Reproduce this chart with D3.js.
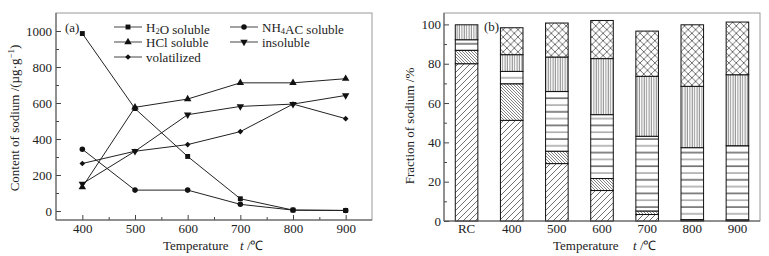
<!DOCTYPE html>
<html><head><meta charset="utf-8">
<script src="https://cdn.jsdelivr.net/npm/d3@7"></script>
<style>
body{margin:0;background:#fff}
svg{font-family:"Liberation Serif","Times New Roman",serif;}
</style>
</head><body>
<svg id="chart" width="769" height="256"></svg>
<script>
// (a) content of sodium, ug/g
const temps = [400, 500, 600, 700, 800, 900];
const h2oSoluble = [986, 569, 303, 68, 5, 3];
const nh4acSoluble = [343, 116, 116, 37, 5, 3];
const hclSoluble = [133, 576, 622, 712, 712, 735];
const insoluble = [151, 332, 535, 581, 594, 642];
const volatilized = [264, 332, 369, 441, 594, 513];

// (b) fraction of sodium, %
const barLabels = ['RC', '400', '500', '600', '700', '800', '900'];
const fracH2O = [80, 51.2, 29.2, 15.5, 3.3, 0.4, 0.3];
const fracNH4AC = [6.8, 18.6, 6.3, 6.1, 1.8, 0.3, 0.3];
const fracHCl = [5.4, 6.3, 30.4, 32.5, 38, 36.6, 37.7];
const fracInsol = [7.6, 8.5, 17.5, 28.5, 30.5, 31.2, 36.1];
const fracVol = [0, 13.7, 17.3, 19.4, 23, 31.3, 26.8];

const ink = '#222';
const serif = '"Liberation Serif","Times New Roman",serif';
const svg = d3.select('#chart');

// ---------- patterns ----------
const defs = svg.append('defs');
function pat(id, w, h, draw) {
    const p = defs.append('pattern').attr('id', id)
        .attr('patternUnits', 'userSpaceOnUse').attr('width', w).attr('height', h);
    p.append('rect').attr('width', w).attr('height', h).attr('fill', '#fff');
    draw(p);
}
pat('p-h2o', 6, 6, p => {
    p.append('path').attr('d', 'M0,6 L6,0 M-1,1 L1,-1 M5,7 L7,5')
        .attr('stroke', '#333').attr('stroke-width', 0.7);
});
pat('p-nh4', 3, 3, p => {
    p.append('path').attr('d', 'M0,0 L3,3 M-1,2 L1,4 M2,-1 L4,1')
        .attr('stroke', '#333').attr('stroke-width', 0.6);
});
pat('p-hcl', 8, 13.6, p => {
    p.append('line').attr('x1', 0).attr('x2', 8).attr('y1', 3).attr('y2', 3)
        .attr('stroke', '#111').attr('stroke-width', 1);
    p.append('line').attr('x1', 0).attr('x2', 8).attr('y1', 9.8).attr('y2', 9.8)
        .attr('stroke', '#777').attr('stroke-width', 1);
});
pat('p-ins', 2.4, 8, p => {
    p.append('line').attr('x1', 1).attr('x2', 1).attr('y1', 0).attr('y2', 8)
        .attr('stroke', '#444').attr('stroke-width', 0.7);
});
pat('p-vol', 7.4, 7.4, p => {
    p.append('path').attr('d', 'M0,0 L7.4,7.4 M0,7.4 L7.4,0')
        .attr('stroke', '#333').attr('stroke-width', 0.7);
});

// ---------- (a) line chart ----------
const A = {l: 56, r: 372, t: 13, b: 220};
const xA = d3.scaleLinear().domain([350, 950]).range([A.l, A.r]);
const yA = d3.scaleLinear().domain([-50, 1100]).range([A.b, A.t]);

const ga = svg.append('g');
ga.append('rect').attr('x', A.l).attr('y', A.t).attr('width', A.r - A.l).attr('height', A.b - A.t)
    .attr('fill', 'none').attr('stroke', '#999');

function styleAxis(g) {
    g.attr('font-family', null).attr('font-size', null);
    g.select('.domain').remove();
    g.selectAll('line').attr('stroke', '#444');
    g.selectAll('text').attr('font-size', 13).attr('fill', ink).attr('font-family', serif);
}

ga.append('g').attr('transform', `translate(0,${A.b})`)
    .call(d3.axisBottom(xA).tickValues(temps).tickFormat(d3.format('d'))
        .tickSizeInner(-5).tickSizeOuter(0).tickPadding(4))
    .call(styleAxis);
ga.append('g').attr('transform', `translate(0,${A.b})`)
    .call(d3.axisBottom(xA).tickValues(d3.range(450, 900, 100)).tickSizeInner(-3).tickSizeOuter(0).tickFormat(''))
    .call(styleAxis);
ga.append('g').attr('transform', `translate(${A.l},0)`)
    .call(d3.axisLeft(yA).tickValues(d3.range(0, 1001, 200)).tickFormat(d3.format('d'))
        .tickSizeInner(-5).tickSizeOuter(0).tickPadding(4))
    .call(styleAxis);
ga.append('g').attr('transform', `translate(${A.l},0)`)
    .call(d3.axisLeft(yA).tickValues(d3.range(100, 1001, 200)).tickSizeInner(-3).tickSizeOuter(0).tickFormat(''))
    .call(styleAxis);
ga.append('line').attr('x1', A.l).attr('x2', A.l).attr('y1', A.t).attr('y2', A.b).attr('stroke', '#555');
ga.append('line').attr('x1', A.l).attr('x2', A.r).attr('y1', A.b).attr('y2', A.b).attr('stroke', '#555');

const seriesA = [
    {name: 'h2o', values: h2oSoluble, sym: d3.symbolSquare, size: 24, rot: 0},
    {name: 'nh4', values: nh4acSoluble, sym: d3.symbolCircle, size: 24, rot: 0},
    {name: 'hcl', values: hclSoluble, sym: d3.symbolTriangle, size: 24, rot: 0},
    {name: 'ins', values: insoluble, sym: d3.symbolTriangle, size: 24, rot: 180},
    {name: 'vol', values: volatilized, sym: d3.symbolSquare, size: 16, rot: 45}
];
const line = d3.line().x((d, i) => xA(temps[i])).y(d => yA(d));
seriesA.forEach(s => {
    ga.append('path').attr('d', line(s.values)).attr('fill', 'none')
        .attr('stroke', ink).attr('stroke-width', 1);
    ga.selectAll(null).data(s.values).enter().append('path')
        .attr('d', d3.symbol(s.sym, s.size))
        .attr('transform', (d, i) => `translate(${xA(temps[i])},${yA(d)}) rotate(${s.rot})`)
        .attr('fill', '#111');
});

// legend
const legA = [
    {s: seriesA[0], x: 114, y: 27, label: ['H', {sub: '2'}, 'O soluble']},
    {s: seriesA[2], x: 114, y: 42, label: ['HCl soluble']},
    {s: seriesA[4], x: 114, y: 57, label: ['volatilized']},
    {s: seriesA[1], x: 230, y: 27, label: ['NH', {sub: '4'}, 'AC soluble']},
    {s: seriesA[3], x: 230, y: 42, label: ['insoluble']}
];
legA.forEach(e => {
    ga.append('line').attr('x1', e.x).attr('x2', e.x + 28).attr('y1', e.y).attr('y2', e.y)
        .attr('stroke', '#444');
    ga.append('path').attr('d', d3.symbol(e.s.sym, e.s.size))
        .attr('transform', `translate(${e.x + 14},${e.y}) rotate(${e.s.rot})`).attr('fill', '#111');
    const t = ga.append('text').attr('x', e.x + 32).attr('y', e.y + 4.5)
        .attr('font-size', 13).attr('fill', ink);
    e.label.forEach(p => {
        if (typeof p === 'string') t.append('tspan').text(p);
        else {
            t.append('tspan').attr('font-size', 8.5).attr('dy', 2).text(p.sub);
            t.append('tspan').attr('dy', -2).text('');
        }
    });
});
ga.append('text').attr('x', 65).attr('y', 32).attr('font-size', 13).attr('fill', ink).text('(a)');

// axis titles
const tyA = ga.append('text').attr('transform', 'translate(19,118) rotate(-90)')
    .attr('text-anchor', 'middle').attr('font-size', 13).attr('fill', ink);
tyA.append('tspan').text('Content of sodium /(\u00b5g\u00b7g');
tyA.append('tspan').attr('font-size', 9).attr('dy', -5).text('\u22121');
tyA.append('tspan').attr('dy', 5).text(')');

function xTitle(g, x1, x2) {
    g.append('text').attr('x', x1).attr('y', 250).attr('font-size', 13).attr('fill', ink).text('Temperature');
    const t = g.append('text').attr('x', x2).attr('y', 250).attr('font-size', 13).attr('fill', ink);
    t.append('tspan').attr('font-style', 'italic').text('t');
    t.append('tspan').text(' /\u2103');
}
xTitle(ga, 163, 240);

// ---------- (b) stacked bars ----------
const B = {l: 444, r: 760, t: 13, b: 221};
const xB = d3.scaleBand().domain(barLabels).range([B.l, B.r]).paddingInner(0.5).paddingOuter(0.25);
const yB = d3.scaleLinear().domain([0, 105.8]).range([B.b, B.t]);

const gb = svg.append('g');
gb.append('rect').attr('x', B.l).attr('y', B.t).attr('width', B.r - B.l).attr('height', B.b - B.t)
    .attr('fill', 'none').attr('stroke', '#999');

const rows = barLabels.map((k, i) => ({
    key: k, h2o: fracH2O[i], nh4: fracNH4AC[i], hcl: fracHCl[i], ins: fracInsol[i], vol: fracVol[i]
}));
const keys = ['h2o', 'nh4', 'hcl', 'ins', 'vol'];
const stack = d3.stack().keys(keys)(rows);
const fills = {h2o: 'url(#p-h2o)', nh4: 'url(#p-nh4)', hcl: 'url(#p-hcl)', ins: 'url(#p-ins)', vol: 'url(#p-vol)'};

stack.forEach(layer => {
    gb.selectAll(null).data(layer.filter(d => d[1] - d[0] > 0)).enter().append('rect')
        .attr('x', d => xB(d.data.key))
        .attr('width', xB.bandwidth())
        .attr('y', d => yB(d[1]))
        .attr('height', d => yB(d[0]) - yB(d[1]))
        .attr('fill', fills[layer.key])
        .attr('stroke', '#111').attr('stroke-width', 1);
});

gb.append('g').attr('transform', `translate(${B.l},0)`)
    .call(d3.axisLeft(yB).tickValues(d3.range(0, 101, 20)).tickSizeInner(-5).tickSizeOuter(0).tickPadding(3))
    .call(styleAxis);
gb.append('g').attr('transform', `translate(${B.l},0)`)
    .call(d3.axisLeft(yB).tickValues(d3.range(10, 101, 20)).tickSizeInner(-3).tickSizeOuter(0).tickFormat(''))
    .call(styleAxis);
gb.append('g').attr('transform', `translate(0,${B.b})`)
    .call(d3.axisBottom(xB).tickSize(0).tickPadding(3))
    .call(styleAxis);
gb.append('line').attr('x1', B.l).attr('x2', B.l).attr('y1', B.t).attr('y2', B.b).attr('stroke', '#555');
gb.append('line').attr('x1', B.l).attr('x2', B.r).attr('y1', B.b).attr('y2', B.b).attr('stroke', '#555');

gb.append('text').attr('x', 484).attr('y', 31).attr('font-size', 13).attr('fill', ink).text('(b)');
gb.append('text').attr('transform', 'translate(414,126) rotate(-90)')
    .attr('text-anchor', 'middle').attr('font-size', 13).attr('fill', ink).text('Fraction of sodium /%');
xTitle(gb, 553, 633);
</script>
</body></html>
